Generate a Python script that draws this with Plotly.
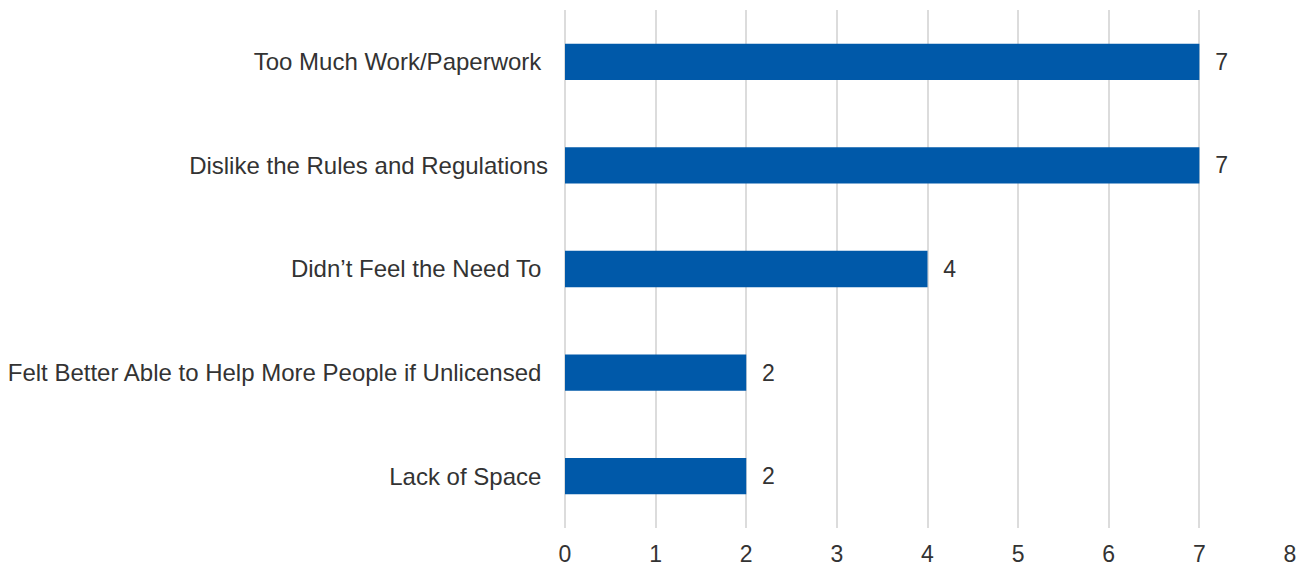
import plotly.graph_objects as go

categories = [
    "Too Much Work/Paperwork\u00a0",
    "Dislike the Rules and Regulations",
    "Didn\u2019t Feel the Need To\u00a0",
    "Felt Better Able to Help More People if Unlicensed\u00a0",
    "Lack of Space\u00a0",
]
values = [7, 7, 4, 2, 2]
x_ticks = [0, 1, 2, 3, 4, 5, 6, 7, 8]

bar_color = "#0059A9"
text_color = "#333333"

fig = go.Figure(go.Bar(
    x=values, y=categories, orientation="h",
    marker=dict(color=bar_color, line=dict(width=0)),
    text=["\u00a0\u00a0" + str(v) for v in values],
    textposition="outside",
    textfont=dict(size=23, color=text_color),
    cliponaxis=False,
))

fig.update_layout(
    width=1304, height=570,
    font=dict(family="Liberation Sans, Arial", size=23, color=text_color),
    plot_bgcolor="white", paper_bgcolor="white",
    margin=dict(l=565, r=14, t=10, b=42),
    bargap=0.65,
    showlegend=False,
)
fig.update_xaxes(
    range=[0, 8], tickvals=x_ticks, automargin=False,
    showgrid=True, gridcolor="#dcdcdc", gridwidth=2,
    zeroline=True, zerolinecolor="#dcdcdc", zerolinewidth=2,
    showline=False, ticks="", ticklabelstandoff=10,
    tickfont=dict(size=23, color=text_color),
)
fig.update_yaxes(
    autorange="reversed", automargin=False,
    showgrid=False, zeroline=False, showline=False,
    ticks="", ticklabelstandoff=16,
    tickfont=dict(size=24, color=text_color),
)

# page has a default body margin; drop it so the figure sits at the origin
fig.write_html(
    "out.html",
    config={"displayModeBar": False},
    post_script="document.body.style.margin='0';document.body.style.overflow='hidden';",
)
